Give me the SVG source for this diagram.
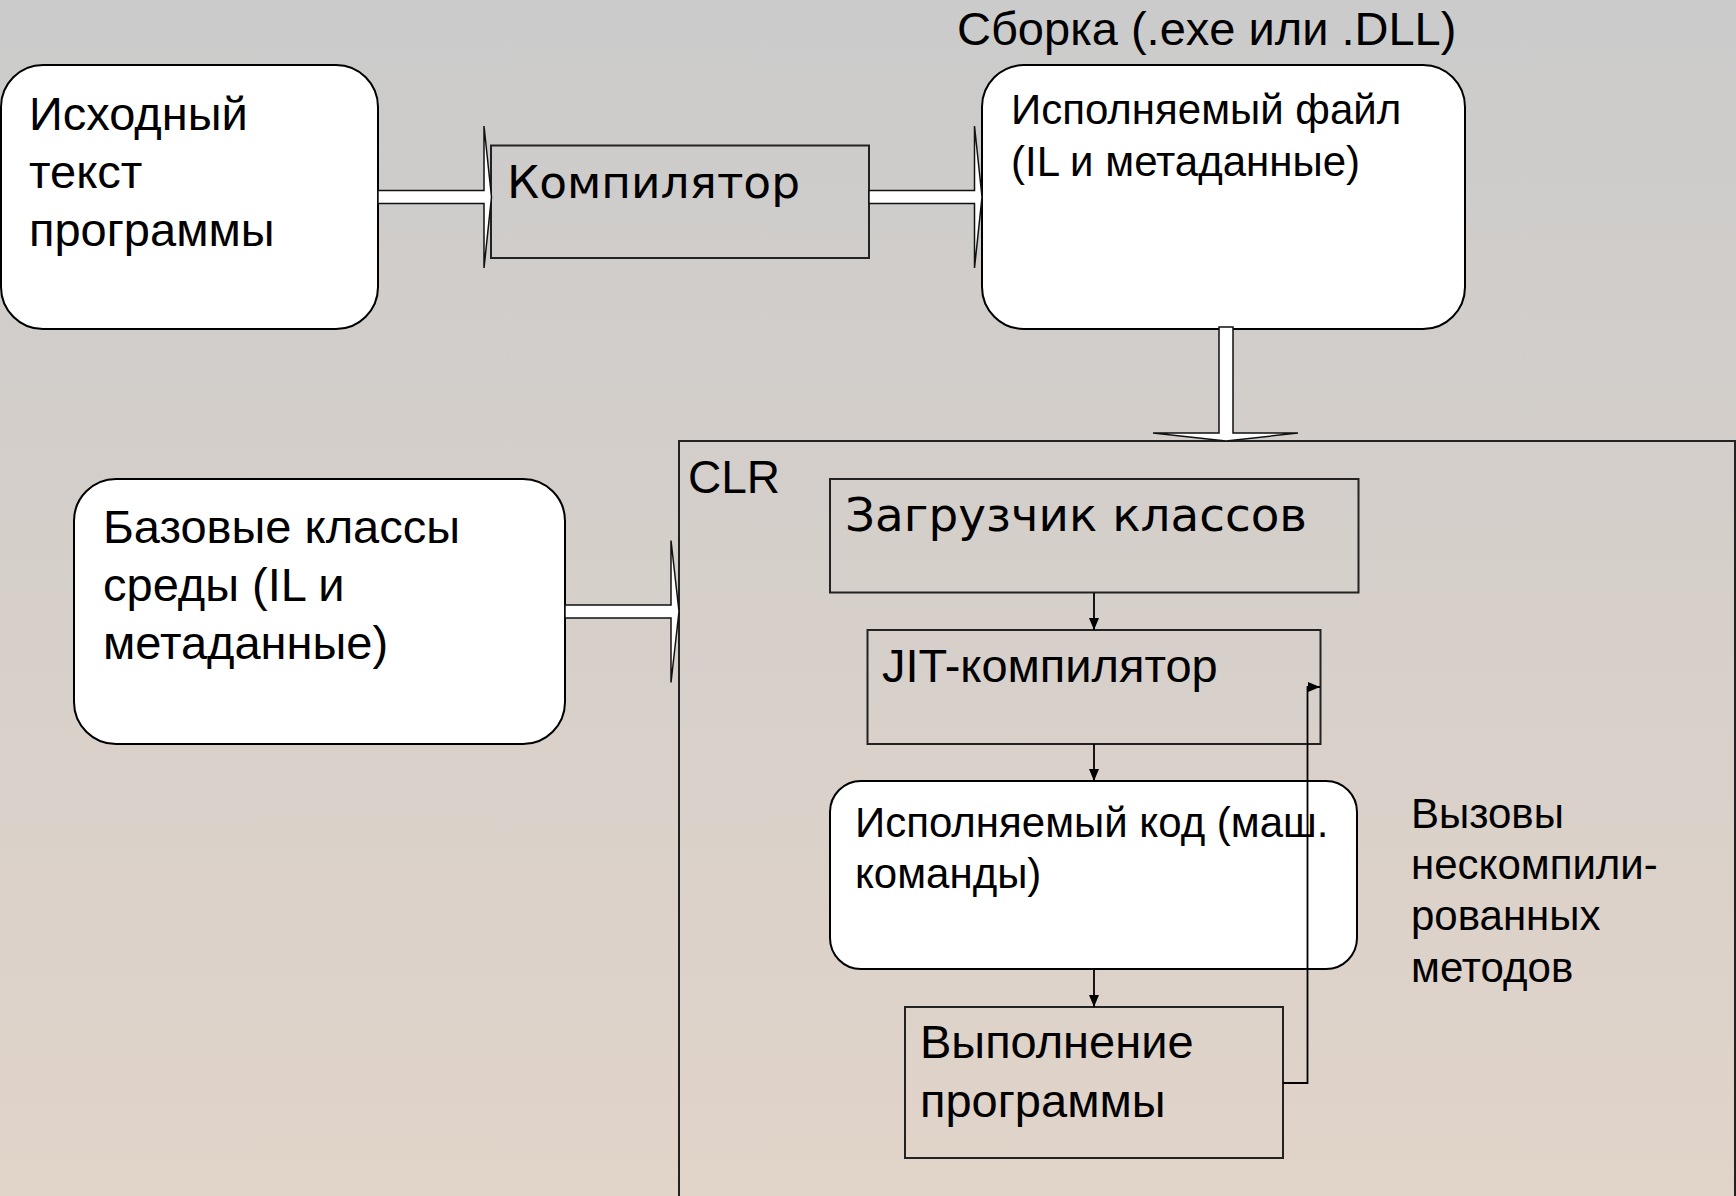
<svg xmlns="http://www.w3.org/2000/svg" width="1736" height="1196" viewBox="0 0 1736 1196">
<defs>
<linearGradient id="bg" x1="0" y1="0" x2="0" y2="1">
<stop offset="0" stop-color="#CBCBCB"/>
<stop offset="1" stop-color="#E1D4C9"/>
</linearGradient>
<marker id="ah" viewBox="0 0 12 10" refX="12" refY="5" markerWidth="12" markerHeight="10" markerUnits="userSpaceOnUse" orient="auto">
<path d="M0,0 L12,5 L0,10 Z" fill="#000"/>
</marker>
<style>
.rnd{fill:#fff;stroke:#000;stroke-width:2}
.box{fill:none;stroke:#222;stroke-width:2}
.t{font-family:"Liberation Sans",Arial,sans-serif;fill:#000}
.v{font-family:"DejaVu Sans",Verdana,sans-serif;fill:#000}
.blk{fill:#fff;stroke:#111;stroke-width:1.5;stroke-linejoin:miter}
.ln{fill:none;stroke:#000;stroke-width:1.8}
</style>
</defs>
<rect x="0" y="0" width="1736" height="1196" fill="url(#bg)"/>

<g id="clr">
<rect x="679" y="441" width="1056" height="820" class="box" stroke="#000"/>
<text class="t" x="688" y="493" font-size="46">CLR</text>
</g>

<g id="source">
<rect x="1" y="65" width="377" height="264" rx="42" ry="42" class="rnd"/>
<text class="t" font-size="47"><tspan x="29" y="130">Исходный</tspan><tspan x="29" y="188">текст</tspan><tspan x="29" y="246">программы</tspan></text>
</g>

<g id="compiler">
<rect x="491" y="145.5" width="378" height="112.5" class="box"/>
<text class="v" x="507" y="198" font-size="45" textLength="293" lengthAdjust="spacingAndGlyphs">Компилятор</text>
</g>

<g id="assembly">
<text class="t" x="957" y="45" font-size="47">Сборка (.exe или .DLL)</text>
<rect x="982" y="65" width="483" height="264" rx="42" ry="42" class="rnd"/>
<text class="t" font-size="42"><tspan x="1011" y="124">Исполняемый файл</tspan><tspan x="1011" y="176">(IL и метаданные)</tspan></text>
</g>

<g id="baseclasses">
<rect x="74" y="479" width="491" height="265" rx="42" ry="42" class="rnd"/>
<text class="t" font-size="47"><tspan x="103" y="543">Базовые классы</tspan><tspan x="103" y="601">среды (IL и</tspan><tspan x="103" y="659">метаданные)</tspan></text>
</g>

<g id="loader">
<rect x="830" y="479" width="528.5" height="113.5" class="box"/>
<text class="v" x="845" y="531" font-size="46" textLength="462" lengthAdjust="spacingAndGlyphs">Загрузчик классов</text>
</g>

<g id="jit">
<rect x="867.5" y="630" width="453" height="114" class="box"/>
<text class="t" x="882" y="682" font-size="47">JIT-компилятор</text>
</g>

<g id="nativecode">
<rect x="830" y="781" width="527" height="188" rx="31" ry="31" class="rnd"/>
<text class="t" font-size="42"><tspan x="855" y="837">Исполняемый код (маш.</tspan><tspan x="855" y="888">команды)</tspan></text>
</g>

<g id="execution">
<rect x="905" y="1007" width="378" height="151" class="box"/>
<text class="t" font-size="47"><tspan x="920" y="1058">Выполнение</tspan><tspan x="920" y="1117">программы</tspan></text>
</g>

<g id="calls-label">
<text class="t" font-size="42"><tspan x="1411" y="828">Вызовы</tspan><tspan x="1411" y="879">нескомпили-</tspan><tspan x="1411" y="930">рованных</tspan><tspan x="1411" y="982">методов</tspan></text>
</g>

<g id="connectors">
<polygon class="blk" points="378,190.5 484,190.5 484,126 491.5,197 484,268 484,203.5 378,203.5"/>
<polygon class="blk" points="869,190.5 974.5,190.5 974.5,126 982,197 974.5,268 974.5,203.5 869,203.5"/>
<polygon class="blk" points="1219,327 1233,327 1233,433 1298,433 1226,441 1153,433 1219,433"/>
<polygon class="blk" points="565,605 671,605 671,540.5 679,611.5 671,682.5 671,618 565,618"/>
<line class="ln" x1="1094" y1="593" x2="1094" y2="630" marker-end="url(#ah)"/>
<line class="ln" x1="1094" y1="744" x2="1094" y2="781" marker-end="url(#ah)"/>
<line class="ln" x1="1094" y1="969" x2="1094" y2="1007" marker-end="url(#ah)"/>
<polyline class="ln" points="1283,1083 1307.5,1083 1307.5,687 1320,687" marker-end="url(#ah)"/>
</g>
</svg>
